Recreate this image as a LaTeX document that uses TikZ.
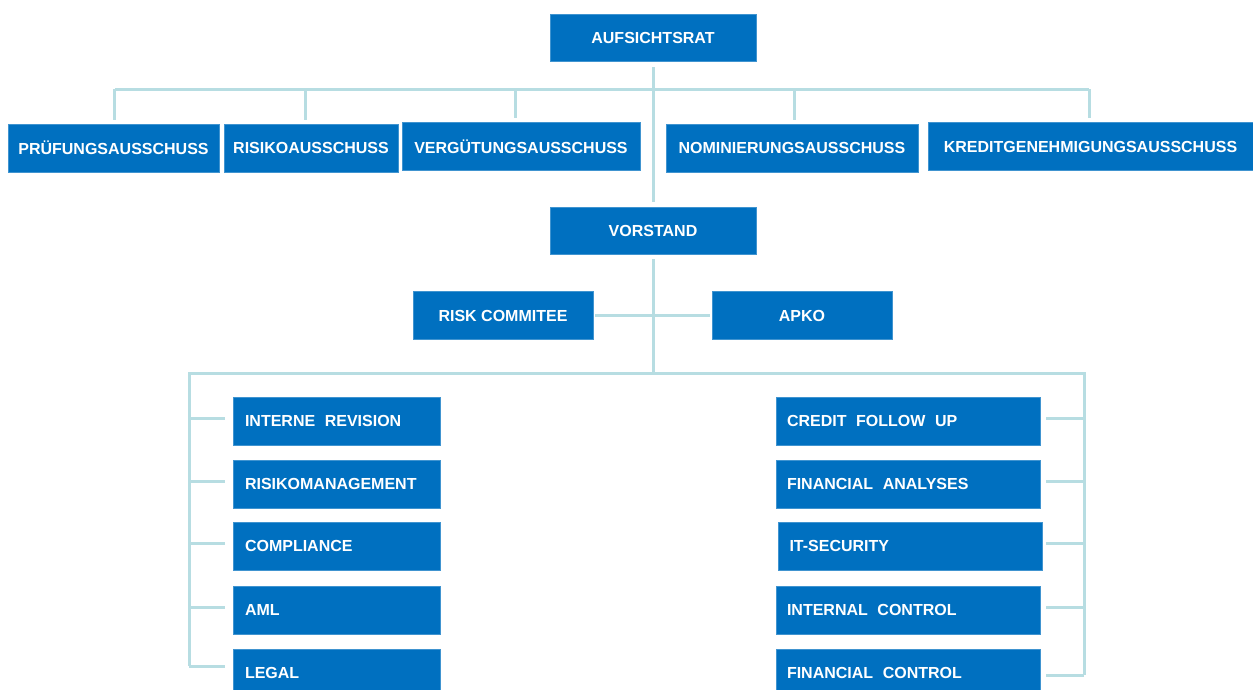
\documentclass[tikz,border=0pt]{standalone}
\usepackage{fontspec}
\newfontfamily\orgfont{Liberation Sans}
\definecolor{boxblue}{RGB}{0,112,192}
\definecolor{linkcol}{RGB}{183,221,226}
\newcommand{\wsp}{\hspace{0.6em}}
\tikzset{every picture/.style={line width=0.75pt}}
\tikzset{
  unit/.style={fill=boxblue, draw=boxblue!75!white, line width=0.5pt, text=white,
    font=\orgfont\bfseries\fontsize{12}{14}\selectfont, inner sep=0pt, minimum height=36pt},
  deptl/.style={unit, inner xsep=9pt, text width=137.25pt, align=left},
  deptr/.style={unit, inner xsep=8.25pt, text width=181.5pt, align=left},
  link/.style={draw=linkcol, line width=2.25pt}
}

\begin{document}
\begin{tikzpicture}[x=0.75pt,y=0.75pt,yscale=-1,xscale=1]
\useasboundingbox (0,0) rectangle (1253,689);

% Board
\node[unit, minimum width=154.5pt, minimum height=35.25pt] (aufsichtsrat) at (653,37.5) {AUFSICHTSRAT};
% Committees
\node[unit, minimum width=158.25pt] (pruefung) at (113.5,148) {PRÜFUNGSAUSSCHUSS};
\node[unit, minimum width=130.5pt] (risiko) at (311,148) {RISIKOAUSSCHUSS};
\node[unit, minimum width=178.5pt] (verguetung) at (521,146.5) {VERGÜTUNGSAUSSCHUSS};
\node[unit, minimum width=189pt] (nominierung) at (792,148) {NOMINIERUNGSAUSSCHUSS};
\node[unit, minimum width=243.75pt] (kredit) at (1090.5,146.5) {KREDITGENEHMIGUNGSAUSSCHUSS};
% Management
\node[unit, minimum width=154.5pt, minimum height=35.25pt] (vorstand) at (653,230.5) {VORSTAND};
\node[unit, minimum width=135pt] (riskcom) at (503,315.5) {RISK COMMITEE};
\node[unit, minimum width=135pt] (apko) at (802,315.5) {APKO};

% Departments, left column
\foreach \nm/\yy/\txt in {revision/421/INTERNE\wsp REVISION, riskmgmt/484/RISIKOMANAGEMENT,
    compliance/546/COMPLIANCE, aml/610/AML, legal/673/LEGAL}
  \node[deptl] (\nm) at (336.5,\yy) {\txt};
% Departments, right column
\foreach \nm/\xx/\yy/\txt in {credit/908/421/CREDIT\wsp FOLLOW\wsp UP, fanalyses/908/484/FINANCIAL\wsp ANALYSES,
    itsec/910.5/546/IT-SECURITY, intcontrol/908/610/INTERNAL\wsp CONTROL, fincontrol/908/673/FINANCIAL\wsp CONTROL}
  \node[deptr] (\nm) at (\xx,\yy) {\txt};

% Bus points
\coordinate (topbus) at (653,89);
\coordinate (topbusl) at (115,89);
\coordinate (topbusr) at (1089,89);
\coordinate (midbus) at (653,373);
\coordinate (lspine) at (189,373);
\coordinate (rspine) at (1084,373);
\coordinate (lend) at (189,666);
\coordinate (rend) at (1084,675);

% Connectors
\draw[link, shorten <=4.5pt, shorten >=3.5pt] (aufsichtsrat) -- (vorstand);
\draw[link] (topbusl) -- (topbusr);
\foreach \nm/\dx in {pruefung/1.1pt, risiko/-4.5pt, verguetung/-4.5pt, nominierung/2.2pt, kredit/-1.1pt}
  \draw[link, shorten >=3pt] ([xshift=\dx]\nm.north |- topbus) -- ([xshift=\dx]\nm.north);
\draw[link, shorten <=3.5pt] (vorstand) -- (midbus);
\draw[link, shorten <=1.5pt, shorten >=1.5pt] (riskcom) -- (apko);
\draw[link] (lend) -- (lspine) -- (rspine) -- (rend);
\foreach \nm in {revision, riskmgmt, compliance, aml}
  \draw[link, shorten >=6pt] ([yshift=-2.25pt]lspine |- \nm.west) -- ([yshift=-2.25pt]\nm.west);
\draw[link, shorten >=6pt] (lend) -- (lend -| legal.west);
\foreach \nm in {credit, fanalyses, itsec, intcontrol}
  \draw[link, shorten >=4.5pt] ([yshift=-2.25pt]rspine |- \nm.east) -- ([yshift=-2.25pt]\nm.east -| credit.east);
\draw[link, shorten >=4.5pt] (rend) -- (rend -| fincontrol.east);

\end{tikzpicture}
\end{document}
